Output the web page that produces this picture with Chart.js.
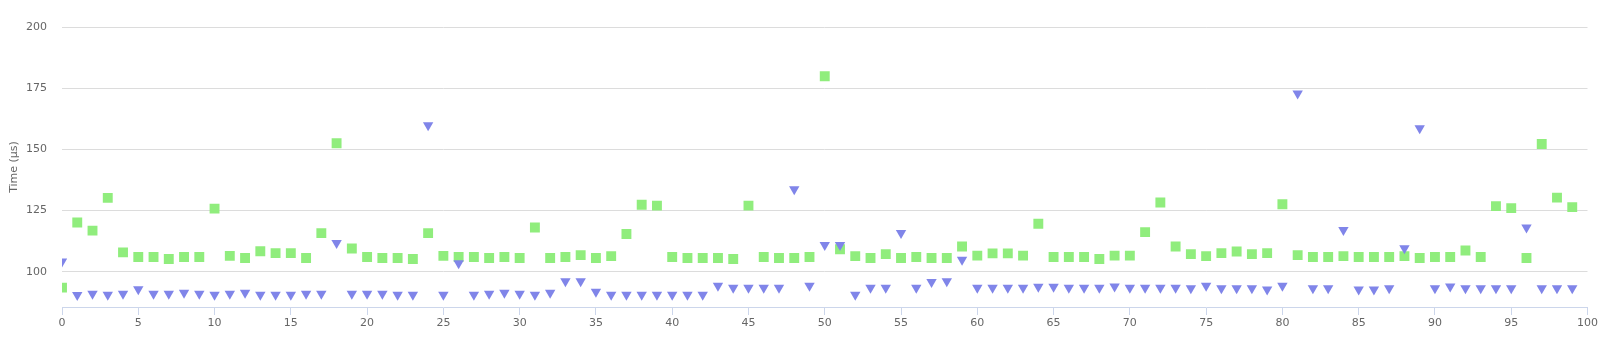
<!DOCTYPE html>
<html>
<head>
<meta charset="utf-8">
<script src="https://cdn.jsdelivr.net/npm/chart.js@4/dist/chart.umd.min.js"></script>
<style>
  html, body { margin: 0; padding: 0; background: #fff; }
  #wrap { width: 1600px; height: 342px; }
</style>
</head>
<body>
<div id="wrap"><canvas id="timing-chart"></canvas></div>
<script>
// per-run timings in microseconds, one entry per run (index 0..99)
var greenTimes = [
  93.5, 120.1, 116.8, 130.2, 107.9, 106.0, 106.0, 105.2, 106.0, 106.0,
  125.8, 106.5, 105.6, 108.4, 107.6, 107.6, 105.6, 115.8, 152.5, 109.5,
  106.0, 105.6, 105.6, 105.2, 115.8, 106.5, 106.0, 106.0, 105.6, 106.0,
  105.6, 118.1, 105.6, 106.0, 106.8, 105.6, 106.4, 115.4, 127.4, 127.0,
  106.0, 105.6, 105.6, 105.6, 105.2, 127.0, 106.0, 105.6, 105.6, 106.0,
  179.9, 109.2, 106.4, 105.6, 107.2, 105.6, 106.0, 105.6, 105.6, 110.3,
  106.6, 107.5, 107.5, 106.6, 119.6, 106.0, 106.0, 106.0, 105.2, 106.6,
  106.6, 116.2, 128.3, 110.3, 107.2, 106.4, 107.6, 108.3, 107.2, 107.6,
  127.6, 106.8, 106.0, 106.0, 106.4, 106.0, 106.0, 106.0, 106.4, 105.6,
  106.0, 106.0, 108.7, 106.0, 126.8, 126.0, 105.6, 152.2, 130.3, 126.4
];
var blueTimes = [
  104.2, 90.5, 91.0, 90.6, 91.0, 92.9, 91.0, 91.0, 91.4, 91.0,
  90.6, 91.0, 91.4, 90.6, 90.6, 90.6, 91.0, 91.0, 111.7, 91.0,
  91.0, 91.0, 90.6, 90.6, 159.9, 90.6, 103.5, 90.6, 91.0, 91.4,
  91.0, 90.6, 91.4, 96.1, 96.1, 91.8, 90.6, 90.6, 90.6, 90.6,
  90.6, 90.6, 90.6, 94.3, 93.5, 93.5, 93.5, 93.5, 133.7, 94.3,
  110.9, 110.9, 90.6, 93.5, 93.5, 115.8, 93.5, 95.8, 96.1, 104.9,
  93.5, 93.5, 93.5, 93.5, 93.9, 93.9, 93.5, 93.5, 93.5, 94.0,
  93.5, 93.5, 93.5, 93.5, 93.3, 94.3, 93.3, 93.3, 93.3, 92.8,
  94.3, 172.8, 93.3, 93.3, 117.1, 92.8, 92.8, 93.3, 109.6, 158.6,
  93.3, 94.0, 93.3, 93.3, 93.3, 93.3, 118.1, 93.3, 93.3, 93.3
];
var yTickValues = [100, 125, 150, 175, 200];
var yTitle = 'Time (µs)';

var FONT = '"Lucida Sans Unicode", "Lucida Grande", "DejaVu Sans", sans-serif';
var LABEL_COLOR = '#666666';

function toPoints(values) {
  return values.map(function (v, i) { return { x: i, y: v }; });
}

var ctx = document.getElementById('timing-chart');
var chart = new Chart(ctx, {
  type: 'scatter',
  data: {
    datasets: [{
      data: toPoints(blueTimes),
      pointStyle: 'triangle',
      rotation: 180,
      pointRadius: 6,
      pointBorderWidth: 0,
      backgroundColor: '#8085e9',
      borderColor: '#8085e9',
      order: 0
    }, {
      data: toPoints(greenTimes),
      pointStyle: 'rect',
      pointRadius: 7,
      pointBorderWidth: 0,
      backgroundColor: '#90ed7d',
      borderColor: '#90ed7d',
      order: 1
    }]
  },
  options: {
    responsive: true,
    maintainAspectRatio: false,
    animation: false,
    layout: { padding: { top: 27, right: 12, left: 0, bottom: 0 } },
    plugins: {
      legend: { display: false },
      tooltip: { enabled: false }
    },
    scales: {
      x: {
        type: 'linear',
        min: 0,
        max: 100,
        border: { display: true, color: '#ccd6eb', width: 1 },
        grid: {
          drawOnChartArea: false,
          drawTicks: true,
          tickLength: 8,
          color: '#ccd6eb'
        },
        ticks: {
          stepSize: 5,
          padding: 2,
          maxRotation: 0,
          color: LABEL_COLOR,
          font: { family: FONT, size: 11 }
        },
        afterFit: function (scale) { scale.height = 35; }
      },
      y: {
        min: 85.6,
        max: 200,
        border: { display: false },
        grid: { color: '#dcdcdc', drawTicks: false },
        ticks: {
          padding: 15,
          color: LABEL_COLOR,
          font: { family: FONT, size: 11 }
        },
        title: {
          display: true,
          text: yTitle,
          color: LABEL_COLOR,
          font: { family: FONT, size: 11 },
          padding: { top: 8, bottom: 0 }
        },
        afterBuildTicks: function (scale) {
          scale.ticks = yTickValues.map(function (v) { return { value: v }; });
        },
        afterFit: function (scale) { scale.width = 62; }
      }
    }
  }
});
</script>
</body>
</html>
